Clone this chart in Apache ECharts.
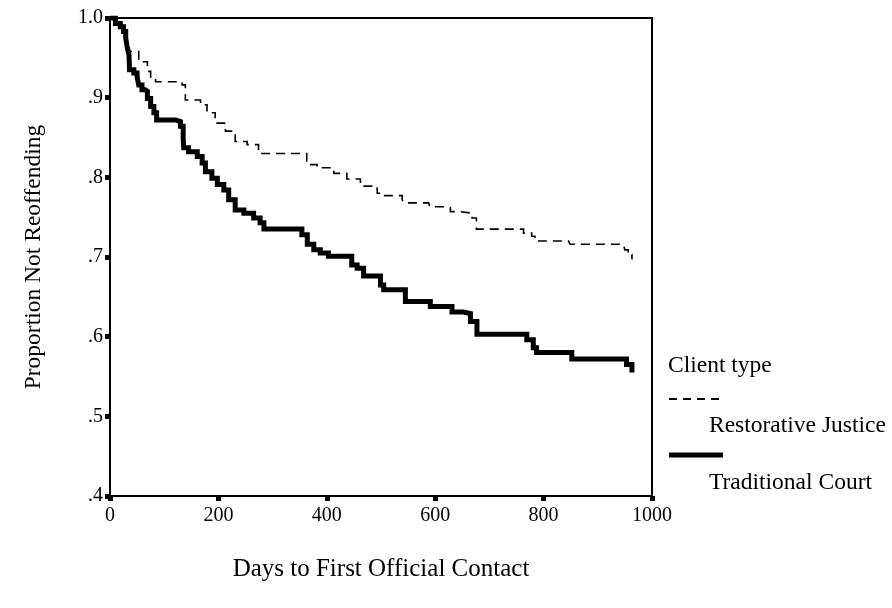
<!DOCTYPE html>
<html>
<head>
<meta charset="utf-8">
<script src="https://cdn.jsdelivr.net/npm/echarts@6/dist/echarts.min.js"></script>
<style>
html,body{margin:0;padding:0;background:#fff;}
#chart{width:892px;height:608px;}
</style>
</head>
<body>
<div id="chart"></div>
<script>
// Kaplan-Meier style survival curves: [day, proportion not reoffending]
const restorativeDays = [0, 13, 22, 27, 30, 36, 53, 65, 69, 75, 84, 115, 133, 139, 167, 179, 194, 213, 231, 253, 274, 348, 363, 382, 413, 437, 462, 493, 505, 532, 539, 542, 588, 590, 615, 628, 646, 668, 676, 763, 778, 784, 846, 849, 947, 950, 956, 963];
const restorativeVals = [1.0, 0.991, 0.985, 0.975, 0.962, 0.958, 0.945, 0.945, 0.933, 0.926, 0.920, 0.920, 0.916, 0.897, 0.891, 0.881, 0.868, 0.858, 0.845, 0.841, 0.830, 0.830, 0.816, 0.812, 0.805, 0.798, 0.789, 0.780, 0.777, 0.777, 0.772, 0.768, 0.768, 0.763, 0.762, 0.757, 0.755, 0.749, 0.735, 0.730, 0.726, 0.720, 0.720, 0.716, 0.714, 0.709, 0.703, 0.697];

const traditionalDays = [0, 10, 19, 25, 29, 32, 35, 36, 44, 50, 53, 59, 65, 69, 75, 81, 86, 121, 130, 135, 136, 145, 161, 170, 176, 188, 198, 210, 219, 231, 247, 265, 277, 284, 348, 354, 364, 376, 388, 403, 437, 446, 456, 468, 489, 499, 505, 535, 545, 585, 591, 625, 631, 652, 665, 677, 760, 769, 781, 787, 846, 852, 944, 953, 963];
const traditionalVals = [1.0, 0.993, 0.989, 0.983, 0.975, 0.962, 0.954, 0.935, 0.931, 0.926, 0.916, 0.910, 0.908, 0.899, 0.889, 0.881, 0.872, 0.870, 0.864, 0.849, 0.837, 0.832, 0.826, 0.818, 0.807, 0.799, 0.791, 0.784, 0.772, 0.759, 0.755, 0.749, 0.743, 0.735, 0.735, 0.728, 0.716, 0.709, 0.705, 0.701, 0.701, 0.690, 0.686, 0.676, 0.676, 0.665, 0.659, 0.659, 0.644, 0.644, 0.638, 0.638, 0.631, 0.629, 0.619, 0.603, 0.603, 0.596, 0.586, 0.580, 0.580, 0.572, 0.572, 0.565, 0.555];

const seriesNames = ['Restorative Justice', 'Traditional Court'];
const legendTitle = 'Client type';
const xTitle = 'Days to First Official Contact';
const yTitle = 'Proportion Not Reoffending';

const FONT = '"Liberation Serif", "Times New Roman", serif';
const zip = (a, b) => a.map((d, i) => [d, b[i]]);

const chart = echarts.init(document.getElementById('chart'), null, {renderer: 'canvas'});
chart.setOption({
  animation: false,
  backgroundColor: '#fff',
  grid: {left: 110, top: 18, right: 240, bottom: 112, show: true, borderColor: '#000', borderWidth: 2, backgroundColor: 'transparent'},
  xAxis: {
    type: 'value', min: 0, max: 1000, interval: 200,
    name: xTitle, nameLocation: 'middle', nameGap: 61,
    nameTextStyle: {fontFamily: FONT, fontSize: 25, color: '#000'},
    axisLine: {show: true, lineStyle: {color: '#000', width: 2}},
    axisTick: {show: true, length: 5, lineStyle: {color: '#000', width: 5}},
    axisLabel: {fontFamily: FONT, fontSize: 20, color: '#000', margin: 10,
      formatter: v => String(v)},
    splitLine: {show: false}
  },
  yAxis: {
    type: 'value', min: 0.4, max: 1.0, interval: 0.1,
    name: yTitle, nameLocation: 'middle', nameGap: 64, nameRotate: 90,
    nameTextStyle: {fontFamily: FONT, fontSize: 23.5, color: '#000'},
    axisLine: {show: true, lineStyle: {color: '#000', width: 2}},
    axisTick: {show: true, length: 5, lineStyle: {color: '#000', width: 5}},
    axisLabel: {fontFamily: FONT, fontSize: 20, color: '#000', margin: 7,
      formatter: v => Math.abs(v - 1) < 1e-6 ? '1.0' : '.' + Math.round(v * 10)},
    splitLine: {show: false}
  },
  series: [
    {name: seriesNames[0], type: 'line', step: 'end', showSymbol: false,
     data: zip(restorativeDays, restorativeVals),
     lineStyle: {color: '#000', width: 1.6, type: [9, 6], cap: 'butt', join: 'miter'}, z: 3},
    {name: seriesNames[1], type: 'line', step: 'end', showSymbol: false,
     data: zip(traditionalDays, traditionalVals),
     lineStyle: {color: '#000', width: 5, cap: 'butt', join: 'miter'}, z: 4}
  ],
  graphic: [
    {type: 'text', left: 668, top: 354, style: {text: legendTitle, font: '23.5px ' + FONT, fill: '#000'}},
    {type: 'line', shape: {x1: 669, y1: 399, x2: 723, y2: 399}, style: {stroke: '#000', lineWidth: 2, lineDash: [8, 6]}},
    {type: 'text', left: 709, top: 414, style: {text: seriesNames[0], font: '23.5px ' + FONT, fill: '#000'}},
    {type: 'line', shape: {x1: 669, y1: 455, x2: 723, y2: 455}, style: {stroke: '#000', lineWidth: 5}},
    {type: 'text', left: 709, top: 471, style: {text: seriesNames[1], font: '23.5px ' + FONT, fill: '#000'}}
  ]
});
</script>
</body>
</html>
